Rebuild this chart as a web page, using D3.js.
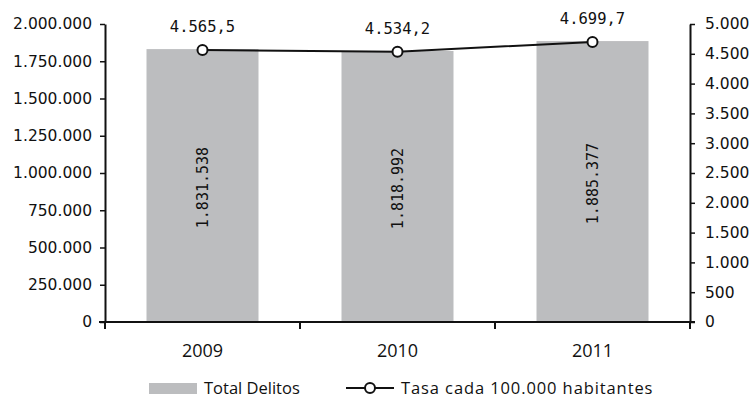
<!DOCTYPE html>
<html>
<head>
<meta charset="utf-8">
<script src="https://cdn.jsdelivr.net/npm/d3@7"></script>
<style>
  html, body { margin: 0; padding: 0; background: #fff; }
  svg { display: block; }
</style>
</head>
<body>
<svg id="chart" width="756" height="399"></svg>
<script>
// Delitos totales y tasa por 100.000 habitantes
const years = ["2009", "2010", "2011"];
const totalDelitos = [1831538, 1818992, 1885377];
const tasa = [4565.5, 4534.2, 4699.7];
const leftTicks = [0, 250000, 500000, 750000, 1000000, 1250000, 1500000, 1750000, 2000000];
const rightTicks = [0, 500, 1000, 1500, 2000, 2500, 3000, 3500, 4000, 4500, 5000];
const legendLabels = ["Total Delitos", "Tasa cada 100.000 habitantes"];

const svg = d3.select("#chart");
const m = { left: 105, right: 690, top: 24, bottom: 322 };

const fmtInt = d3.formatLocale({ decimal: ",", thousands: ".", grouping: [3], currency: ["", ""] });
const fInt = fmtInt.format(",d");
const fDec = fmtInt.format(",.1f");

const x = d3.scaleBand().domain(years).range([m.left, m.right]).paddingInner(0).paddingOuter(0);
const yL = d3.scaleLinear().domain([0, 2000000]).range([m.bottom, m.top]);
const yR = d3.scaleLinear().domain([0, 5000]).range([m.bottom, m.top]);

const barW = 112;
const gray = "#bcbdbf";
const tickFont = "'DejaVu Sans', Verdana, sans-serif";
const monoFont = "'DejaVu Sans Mono', monospace";
const legFont = "'Open Sans', 'Noto Sans', sans-serif";

// bars
svg.append("g").selectAll("rect").data(years).join("rect")
  .attr("x", d => x(d) + x.bandwidth() / 2 - barW / 2)
  .attr("width", barW)
  .attr("y", (d, i) => yL(totalDelitos[i]))
  .attr("height", (d, i) => yL(0) - yL(totalDelitos[i]))
  .attr("fill", gray);

// rotated value labels inside bars
svg.append("g").selectAll("text").data(years).join("text")
  .attr("transform", (d, i) => {
    const cx = x(d) + x.bandwidth() / 2;
    const cy = (yL(totalDelitos[i]) + yL(0)) / 2;
    return `translate(${cx + 5},${cy + 2}) rotate(-90)`;
  })
  .attr("text-anchor", "middle")
  .attr("font-family", monoFont)
  .attr("font-size", 15)
  .attr("fill", "#111")
  .text((d, i) => fInt(totalDelitos[i]));

// left axis
const axL = svg.append("g").attr("transform", `translate(${m.left},0)`)
  .call(d3.axisLeft(yL).tickValues(leftTicks).tickFormat(fInt).tickSize(5).tickSizeOuter(0).tickPadding(8));
axL.selectAll("text").attr("font-family", tickFont).attr("font-size", 15.5).attr("fill", "#111");

// right axis
const axR = svg.append("g").attr("transform", `translate(${m.right},0)`)
  .call(d3.axisRight(yR).tickValues(rightTicks).tickFormat(fInt).tickSize(5).tickSizeOuter(0).tickPadding(10));
axR.selectAll("text").attr("font-family", tickFont).attr("font-size", 15.5).attr("fill", "#111");

// bottom axis with ticks on band boundaries
const axB = svg.append("g").attr("transform", `translate(0,${m.bottom})`)
  .call(d3.axisBottom(x).tickSize(0).tickPadding(22));
axB.selectAll("text").attr("font-family", legFont).attr("font-size", 18).attr("fill", "#111");
axB.select(".domain").remove();
axB.append("line").attr("x1", m.left - 6).attr("x2", m.right + 5).attr("y1", 0).attr("y2", 0)
  .attr("stroke", "#111").attr("stroke-width", 2);
const bounds = years.map(d => x(d)).concat([x(years[years.length - 1]) + x.bandwidth()]);
axB.selectAll("line.bnd").data(bounds).join("line").attr("class", "bnd")
  .attr("x1", d => d).attr("x2", d => d).attr("y1", 0).attr("y2", 7)
  .attr("stroke", "#111").attr("stroke-width", 2);

[axL, axR].forEach(a => {
  a.selectAll(".domain").attr("stroke", "#111").attr("stroke-width", 2);
  a.selectAll(".tick line").attr("stroke", "#111").attr("stroke-width", 1.5);
});

// rate line
const cx = (d, i) => x(years[i]) + x.bandwidth() / 2;
svg.append("path")
  .datum(tasa)
  .attr("d", d3.line().x((d, i) => cx(d, i)).y(d => yR(d)))
  .attr("fill", "none").attr("stroke", "#111").attr("stroke-width", 2);
svg.append("g").selectAll("circle").data(tasa).join("circle")
  .attr("cx", cx).attr("cy", d => yR(d)).attr("r", 5)
  .attr("fill", "#fff").attr("stroke", "#111").attr("stroke-width", 2);
svg.append("g").selectAll("text").data(tasa).join("text")
  .attr("x", cx).attr("y", d => yR(d) - 18)
  .attr("text-anchor", "middle")
  .attr("font-family", monoFont).attr("font-size", 15.5).attr("fill", "#111")
  .text(d => fDec(d));

// legend
const lg = svg.append("g");
lg.append("rect").attr("x", 149).attr("y", 383).attr("width", 48).attr("height", 11).attr("fill", gray);
lg.append("text").attr("x", 204).attr("y", 394).attr("font-family", legFont).attr("font-size", 16.5)
  .attr("fill", "#111").text(legendLabels[0]);
lg.append("line").attr("x1", 346).attr("x2", 394).attr("y1", 388).attr("y2", 388)
  .attr("stroke", "#111").attr("stroke-width", 2);
lg.append("circle").attr("cx", 370).attr("cy", 388).attr("r", 5)
  .attr("fill", "#fff").attr("stroke", "#111").attr("stroke-width", 2);
lg.append("text").attr("x", 401).attr("y", 394).attr("font-family", legFont).attr("font-size", 16.5)
  .attr("letter-spacing", 0.9).attr("fill", "#111").text(legendLabels[1]);
</script>
</body>
</html>
